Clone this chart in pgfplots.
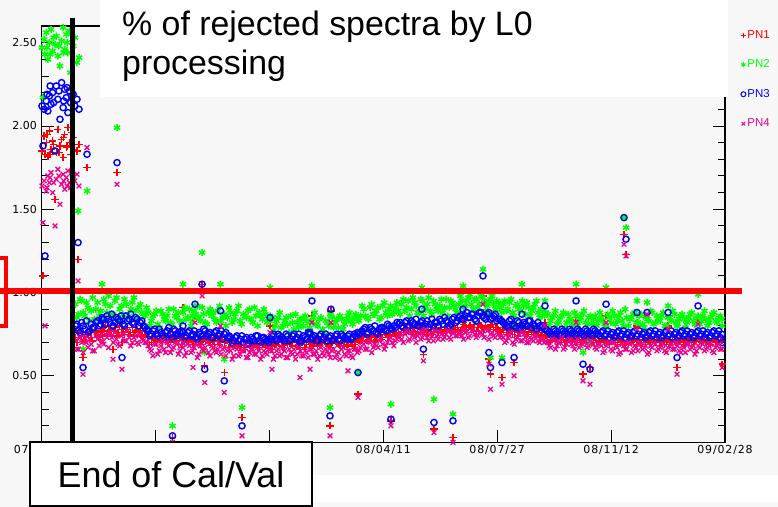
\documentclass[border=0pt]{standalone}
\usepackage{fontspec}
\setmainfont{Liberation Sans}
\newfontfamily\dejavu{DejaVu Sans}
\newfontfamily\dejavux[LetterSpace=8]{DejaVu Sans}
\usepackage{pgfplots}
\usepackage{pgfplotstable}
\pgfplotsset{compat=1.18}
\definecolor{bgc}{RGB}{247,247,247}

\pgfplotstableread{
d g b r m
0.5 2.47 2.12 1.85 1.64
1.4 2.17 1.88 1.10 1.42
2.5 2.52 2.10 1.94 1.67
3.3 2.43 1.22 1.83 0.80
4.5 2.56 2.15 1.90 1.61
5.2 2.47 2.19 1.95 1.63
6.0 2.40 2.09 1.82 1.70
7.5 2.50 2.18 1.97 1.66
8.2 2.43 2.24 1.83 1.69
9.0 2.58 2.13 1.86 1.72
10.5 2.45 2.20 1.91 1.60
11.5 2.53 2.14 1.89 1.66
12.8 2.49 1.85 1.56 1.40
14.0 2.54 2.24 1.84 1.68
15.5 2.42 2.16 1.98 1.74
16.5 2.48 2.21 1.84 1.70
17.5 2.36 2.04 1.88 1.53
19.0 2.51 2.26 1.92 1.65
20.5 2.59 2.11 1.81 1.71
21.0 2.44 2.15 1.93 1.67
22.0 2.46 2.22 1.95 1.62
23.5 2.55 2.17 1.87 1.69
24.2 2.50 2.23 1.88 1.64
25.0 2.44 2.08 1.99 1.73
26.5 2.57 2.21 1.90 1.66
27.5 2.32 2.14 1.83 1.63
28.4 2.56 2.18 1.96 1.72
30.0 2.48 2.19 1.93 1.70
31.5 2.53 2.12 1.86 1.67
33.6 2.38 2.16 1.85 1.71
35.5 2.41 2.10 1.89 1.64
32 0.93 0.80 0.73 0.71
35 0.87 0.77 0.76 0.66
38 0.95 0.82 0.74 0.70
41 0.86 0.78 0.71 0.73
44 0.91 0.76 0.75 0.67
47 0.89 0.81 0.73 0.69
50 0.84 0.79 0.77 0.65
53 0.94 0.83 0.74 0.72
56 0.89 0.81 0.76 0.74
59 0.96 0.84 0.79 0.69
62 0.88 0.86 0.75 0.73
65 0.92 0.82 0.78 0.76
68 0.85 0.80 0.77 0.70
71 0.97 0.85 0.74 0.72
74 0.90 0.83 0.80 0.68
77 0.87 0.81 0.76 0.75
80 0.93 0.86 0.78 0.71
83 0.86 0.84 0.75 0.73
86 0.94 0.82 0.79 0.70
89 0.89 0.85 0.77 0.74
92 0.91 0.80 0.76 0.69
95 0.88 0.83 0.74 0.72
98 0.86 0.79 0.75 0.70
101 0.88 0.77 0.73 0.68
104 0.83 0.75 0.70 0.65
107 0.87 0.78 0.74 0.69
110 0.81 0.74 0.72 0.63
113 0.89 0.76 0.71 0.68
116 0.84 0.73 0.73 0.66
119 0.86 0.77 0.70 0.70
122 0.82 0.75 0.74 0.64
125 0.90 0.78 0.72 0.67
128 0.85 0.74 0.71 0.69
131 0.83 0.76 0.73 0.65
134 0.88 0.76 0.72 0.67
137 0.84 0.74 0.70 0.64
140 0.90 0.77 0.73 0.68
143 0.83 0.75 0.69 0.65
146 0.87 0.73 0.72 0.69
149 0.85 0.76 0.70 0.63
152 0.91 0.74 0.71 0.66
155 0.82 0.77 0.73 0.67
158 0.88 0.75 0.70 0.64
161 0.86 0.73 0.72 0.68
164 0.84 0.76 0.69 0.65
167 0.89 0.74 0.71 0.66
170 0.83 0.77 0.72 0.63
173 0.87 0.75 0.70 0.67
176 0.85 0.73 0.71 0.65
179 0.88 0.73 0.70 0.65
182 0.84 0.71 0.68 0.62
185 0.89 0.74 0.70 0.66
188 0.83 0.72 0.67 0.63
191 0.87 0.70 0.69 0.65
194 0.85 0.73 0.71 0.61
197 0.90 0.71 0.68 0.64
200 0.82 0.72 0.70 0.66
203 0.86 0.74 0.69 0.63
206 0.88 0.71 0.67 0.65
209 0.84 0.73 0.70 0.62
212 0.87 0.72 0.68 0.64
215 0.83 0.70 0.69 0.66
218 0.84 0.74 0.71 0.65
221 0.80 0.72 0.69 0.62
224 0.85 0.75 0.70 0.66
227 0.79 0.73 0.68 0.63
230 0.83 0.71 0.71 0.65
233 0.81 0.74 0.69 0.61
236 0.86 0.72 0.70 0.64
239 0.78 0.75 0.72 0.66
242 0.82 0.73 0.68 0.63
245 0.84 0.71 0.70 0.65
248 0.80 0.74 0.71 0.62
251 0.83 0.72 0.69 0.64
254 0.79 0.75 0.70 0.66
257 0.85 0.73 0.68 0.63
260 0.81 0.71 0.71 0.65
263 0.84 0.74 0.69 0.62
266 0.78 0.72 0.70 0.64
269 0.83 0.75 0.72 0.66
272 0.80 0.73 0.68 0.63
275 0.85 0.71 0.70 0.65
278 0.82 0.74 0.71 0.61
281 0.79 0.72 0.69 0.64
284 0.84 0.75 0.70 0.66
287 0.81 0.73 0.68 0.63
290 0.86 0.74 0.71 0.65
293 0.83 0.72 0.70 0.62
296 0.85 0.75 0.69 0.66
299 0.84 0.76 0.72 0.64
302 0.86 0.76 0.72 0.67
305 0.90 0.78 0.74 0.69
308 0.85 0.75 0.71 0.66
311 0.91 0.79 0.73 0.70
314 0.87 0.77 0.75 0.67
317 0.89 0.76 0.72 0.68
320 0.84 0.78 0.74 0.71
323 0.92 0.79 0.73 0.69
326 0.88 0.77 0.75 0.68
329 0.90 0.80 0.74 0.72
332 0.87 0.78 0.76 0.70
335 0.91 0.79 0.75 0.71
338 0.89 0.81 0.76 0.73
341 0.93 0.80 0.76 0.72
344 0.89 0.82 0.78 0.75
347 0.95 0.79 0.77 0.71
350 0.90 0.83 0.75 0.76
353 0.94 0.81 0.79 0.73
356 0.88 0.80 0.76 0.74
359 0.96 0.82 0.78 0.72
362 0.91 0.79 0.77 0.77
365 0.93 0.83 0.75 0.73
368 0.89 0.81 0.78 0.75
371 0.95 0.80 0.76 0.71
374 0.90 0.82 0.79 0.74
377 0.92 0.84 0.77 0.76
380 0.88 0.81 0.76 0.72
383 0.96 0.83 0.78 0.75
386 0.91 0.80 0.77 0.73
389 0.94 0.84 0.79 0.76
392 0.90 0.82 0.78 0.74
395 0.93 0.85 0.77 0.75
398 0.95 0.84 0.78 0.74
401 0.92 0.86 0.80 0.76
404 0.97 0.85 0.79 0.73
407 0.93 0.87 0.78 0.77
410 0.96 0.84 0.81 0.75
413 0.91 0.86 0.79 0.74
416 0.98 0.88 0.80 0.76
419 0.94 0.85 0.78 0.73
422 0.92 0.87 0.79 0.77
425 0.96 0.84 0.80 0.75
428 0.93 0.86 0.78 0.74
431 0.95 0.83 0.79 0.76
434 0.91 0.84 0.77 0.73
437 0.93 0.82 0.78 0.73
440 0.89 0.80 0.76 0.71
443 0.94 0.83 0.77 0.74
446 0.88 0.81 0.75 0.70
449 0.92 0.79 0.78 0.72
452 0.90 0.82 0.76 0.75
455 0.95 0.80 0.77 0.71
458 0.87 0.81 0.79 0.73
461 0.91 0.83 0.76 0.70
464 0.89 0.79 0.77 0.72
467 0.93 0.80 0.75 0.74
470 0.88 0.82 0.76 0.71
473 0.90 0.79 0.74 0.72
476 0.86 0.78 0.75 0.70
479 0.87 0.77 0.73 0.70
482 0.83 0.75 0.71 0.67
485 0.86 0.78 0.74 0.71
488 0.81 0.76 0.72 0.68
491 0.85 0.74 0.70 0.70
494 0.88 0.77 0.73 0.66
497 0.82 0.75 0.71 0.69
500 0.84 0.78 0.74 0.72
503 0.80 0.76 0.72 0.68
506 0.86 0.74 0.70 0.70
509 0.83 0.77 0.73 0.67
512 0.87 0.75 0.71 0.69
515 0.82 0.78 0.72 0.71
518 0.85 0.76 0.74 0.68
521 0.81 0.74 0.70 0.70
524 0.86 0.77 0.73 0.67
527 0.83 0.75 0.71 0.69
530 0.85 0.76 0.72 0.68
533 0.81 0.74 0.70 0.65
536 0.87 0.77 0.73 0.69
539 0.82 0.75 0.71 0.66
542 0.86 0.73 0.72 0.70
545 0.83 0.76 0.69 0.67
548 0.88 0.74 0.71 0.64
551 0.80 0.77 0.73 0.68
554 0.85 0.75 0.70 0.66
557 0.84 0.73 0.72 0.69
560 0.87 0.76 0.71 0.65
563 0.82 0.74 0.69 0.67
566 0.86 0.77 0.72 0.70
569 0.81 0.75 0.73 0.66
572 0.85 0.73 0.70 0.68
575 0.83 0.76 0.71 0.64
578 0.88 0.74 0.72 0.67
581 0.82 0.77 0.70 0.69
584 0.84 0.75 0.73 0.66
587 0.86 0.73 0.71 0.68
590 0.80 0.76 0.69 0.65
593 0.85 0.74 0.72 0.67
596 0.83 0.77 0.70 0.69
599 0.87 0.75 0.71 0.66
602 0.81 0.73 0.73 0.68
605 0.86 0.76 0.72 0.64
608 0.84 0.74 0.70 0.67
611 0.82 0.77 0.71 0.69
614 0.87 0.75 0.72 0.66
617 0.83 0.73 0.70 0.68
620 0.85 0.76 0.73 0.65
623 0.81 0.74 0.71 0.67
626 0.86 0.77 0.72 0.69
629 0.84 0.75 0.70 0.66
632 0.82 0.73 0.71 0.68
635 0.87 0.76 0.72 0.65
638 0.83 0.74 0.70 0.67
641 0.85 0.77 0.73 0.69
644 0.84 0.75 0.71 0.66
33.5 0.85 0.81 0.70 0.66
36.5 0.96 0.76 0.77 0.73
39.5 0.88 0.80 0.72 0.64
42.5 0.94 0.83 0.75 0.70
45.5 0.83 0.77 0.78 0.72
48.5 0.97 0.79 0.71 0.65
51.5 0.90 0.82 0.76 0.74
54.5 0.86 0.80 0.73 0.68
57.5 0.84 0.85 0.74 0.70
60.5 0.93 0.81 0.80 0.75
63.5 0.98 0.84 0.77 0.67
66.5 0.87 0.87 0.74 0.73
69.5 0.95 0.82 0.79 0.76
72.5 0.83 0.84 0.76 0.69
75.5 0.92 0.86 0.78 0.74
78.5 0.96 0.80 0.75 0.71
81.5 0.85 0.83 0.79 0.77
84.5 0.90 0.87 0.76 0.68
87.5 0.97 0.81 0.74 0.73
90.5 0.84 0.84 0.78 0.70
93.5 0.93 0.82 0.77 0.75
96.5 0.87 0.80 0.73 0.71
99.5 0.91 0.78 0.75 0.70
102.5 0.80 0.74 0.69 0.66
105.5 0.86 0.77 0.73 0.62
108.5 0.89 0.75 0.71 0.69
111.5 0.79 0.78 0.74 0.65
114.5 0.87 0.74 0.70 0.71
117.5 0.83 0.76 0.73 0.64
120.5 0.90 0.79 0.71 0.68
123.5 0.81 0.73 0.72 0.66
126.5 0.86 0.77 0.74 0.70
129.5 0.88 0.75 0.69 0.63
132.5 0.82 0.77 0.69 0.68
135.5 0.91 0.73 0.73 0.62
138.5 0.85 0.76 0.71 0.69
141.5 0.80 0.74 0.72 0.64
144.5 0.89 0.77 0.70 0.67
147.5 0.92 0.72 0.74 0.61
150.5 0.83 0.75 0.69 0.68
153.5 0.87 0.78 0.72 0.65
156.5 0.81 0.74 0.73 0.70
159.5 0.90 0.76 0.70 0.62
162.5 0.88 0.73 0.71 0.67
165.5 0.82 0.77 0.74 0.64
168.5 0.92 0.75 0.69 0.69
171.5 0.85 0.72 0.72 0.66
174.5 0.80 0.76 0.71 0.62
177.5 0.91 0.74 0.67 0.66
180.5 0.82 0.70 0.71 0.60
183.5 0.87 0.73 0.68 0.67
186.5 0.92 0.71 0.70 0.62
189.5 0.81 0.74 0.69 0.65
192.5 0.86 0.72 0.66 0.68
195.5 0.89 0.69 0.71 0.61
198.5 0.84 0.73 0.68 0.66
201.5 0.91 0.71 0.70 0.63
204.5 0.80 0.74 0.67 0.67
207.5 0.86 0.70 0.71 0.60
210.5 0.90 0.73 0.69 0.65
213.5 0.82 0.71 0.68 0.63
216.5 0.86 0.72 0.68 0.66
219.5 0.77 0.75 0.71 0.60
222.5 0.83 0.71 0.69 0.65
225.5 0.88 0.74 0.72 0.62
228.5 0.80 0.72 0.67 0.67
231.5 0.85 0.75 0.70 0.61
234.5 0.76 0.71 0.71 0.66
237.5 0.82 0.74 0.68 0.63
240.5 0.87 0.72 0.72 0.60
243.5 0.79 0.75 0.69 0.67
246.5 0.84 0.71 0.70 0.62
249.5 0.86 0.73 0.67 0.65
252.5 0.77 0.76 0.71 0.61
255.5 0.83 0.72 0.69 0.66
258.5 0.88 0.74 0.72 0.63
261.5 0.80 0.71 0.68 0.60
264.5 0.85 0.75 0.70 0.67
267.5 0.76 0.73 0.71 0.62
270.5 0.82 0.71 0.69 0.65
273.5 0.87 0.74 0.67 0.61
276.5 0.79 0.72 0.72 0.66
279.5 0.84 0.75 0.70 0.63
282.5 0.86 0.71 0.68 0.60
285.5 0.78 0.74 0.71 0.67
288.5 0.83 0.72 0.69 0.62
291.5 0.88 0.75 0.72 0.65
294.5 0.81 0.73 0.68 0.61
297.5 0.87 0.74 0.70 0.66
300.5 0.83 0.75 0.71 0.65
303.5 0.92 0.77 0.73 0.70
306.5 0.86 0.79 0.75 0.66
309.5 0.84 0.76 0.72 0.71
312.5 0.93 0.78 0.74 0.64
315.5 0.87 0.80 0.71 0.69
318.5 0.91 0.75 0.75 0.67
321.5 0.85 0.79 0.72 0.72
324.5 0.94 0.78 0.76 0.66
327.5 0.86 0.81 0.73 0.70
330.5 0.92 0.79 0.75 0.73
333.5 0.88 0.80 0.77 0.68
336.5 0.94 0.82 0.74 0.72
339.5 0.87 0.82 0.75 0.75
342.5 0.96 0.79 0.78 0.70
345.5 0.91 0.83 0.76 0.77
348.5 0.86 0.80 0.79 0.72
351.5 0.97 0.82 0.77 0.75
354.5 0.92 0.84 0.75 0.70
357.5 0.88 0.80 0.80 0.76
360.5 0.95 0.83 0.76 0.73
363.5 0.90 0.81 0.78 0.78
366.5 0.97 0.79 0.77 0.71
369.5 0.87 0.84 0.75 0.74
372.5 0.93 0.82 0.79 0.77
375.5 0.89 0.80 0.76 0.72
378.5 0.96 0.83 0.78 0.75
381.5 0.91 0.85 0.77 0.73
384.5 0.86 0.82 0.80 0.77
387.5 0.95 0.81 0.76 0.72
390.5 0.92 0.85 0.78 0.76
393.5 0.88 0.83 0.79 0.74
396.5 0.98 0.86 0.77 0.76
399.5 0.91 0.84 0.81 0.72
402.5 0.95 0.88 0.78 0.77
405.5 0.99 0.85 0.80 0.74
408.5 0.90 0.87 0.79 0.78
411.5 0.96 0.83 0.77 0.73
414.5 0.93 0.88 0.81 0.76
417.5 0.97 0.86 0.79 0.75
420.5 0.89 0.84 0.80 0.78
423.5 0.95 0.88 0.78 0.72
426.5 0.98 0.85 0.81 0.76
429.5 0.90 0.87 0.79 0.73
432.5 0.94 0.84 0.78 0.75
435.5 0.88 0.83 0.76 0.74
438.5 0.95 0.81 0.79 0.70
441.5 0.90 0.79 0.75 0.73
444.5 0.96 0.84 0.78 0.76
447.5 0.86 0.80 0.77 0.69
450.5 0.93 0.83 0.74 0.73
453.5 0.89 0.78 0.78 0.71
456.5 0.92 0.82 0.76 0.75
459.5 0.94 0.80 0.75 0.70
462.5 0.86 0.83 0.78 0.73
465.5 0.91 0.81 0.76 0.71
468.5 0.95 0.78 0.77 0.74
471.5 0.85 0.80 0.73 0.70
474.5 0.89 0.80 0.76 0.72
477.5 0.88 0.78 0.74 0.71
480.5 0.80 0.76 0.70 0.68
483.5 0.85 0.74 0.73 0.72
486.5 0.89 0.77 0.71 0.66
489.5 0.82 0.75 0.74 0.70
492.5 0.86 0.78 0.72 0.73
495.5 0.79 0.76 0.70 0.67
498.5 0.87 0.74 0.73 0.71
501.5 0.83 0.77 0.71 0.69
504.5 0.88 0.75 0.74 0.66
507.5 0.80 0.78 0.72 0.72
510.5 0.85 0.76 0.70 0.68
513.5 0.89 0.74 0.73 0.70
516.5 0.81 0.77 0.71 0.67
519.5 0.86 0.75 0.74 0.71
522.5 0.84 0.78 0.72 0.69
525.5 0.80 0.76 0.70 0.66
528.5 0.88 0.74 0.70 0.69
531.5 0.83 0.77 0.72 0.64
534.5 0.79 0.75 0.71 0.68
537.5 0.85 0.73 0.69 0.70
540.5 0.89 0.76 0.73 0.65
543.5 0.81 0.74 0.70 0.68
546.5 0.86 0.77 0.72 0.63
549.5 0.83 0.75 0.71 0.69
552.5 0.90 0.73 0.69 0.66
555.5 0.80 0.76 0.73 0.70
558.5 0.85 0.74 0.70 0.64
561.5 0.88 0.77 0.72 0.68
564.5 0.82 0.75 0.71 0.65
567.5 0.87 0.73 0.69 0.69
570.5 0.79 0.76 0.72 0.67
573.5 0.84 0.74 0.73 0.63
576.5 0.89 0.77 0.70 0.68
579.5 0.81 0.75 0.71 0.70
582.5 0.86 0.73 0.72 0.65
585.5 0.83 0.76 0.70 0.67
588.5 0.88 0.74 0.73 0.69
591.5 0.80 0.77 0.71 0.64
594.5 0.85 0.75 0.69 0.68
597.5 0.89 0.73 0.72 0.66
600.5 0.82 0.76 0.70 0.70
603.5 0.84 0.74 0.71 0.65
606.5 0.87 0.77 0.73 0.68
609.5 0.79 0.75 0.69 0.64
612.5 0.85 0.73 0.72 0.69
615.5 0.88 0.76 0.70 0.67
618.5 0.81 0.74 0.71 0.63
621.5 0.86 0.77 0.73 0.68
624.5 0.83 0.75 0.70 0.70
627.5 0.89 0.73 0.72 0.65
630.5 0.80 0.76 0.71 0.67
633.5 0.85 0.74 0.69 0.69
636.5 0.88 0.77 0.72 0.64
639.5 0.82 0.75 0.70 0.68
642.5 0.86 0.73 0.73 0.66
34.6 1.49 1.30 1.20 1.07
39.3 0.66 0.55 0.61 0.51
43.1 1.61 1.83 1.75 1.87
57.3 1.05 0.84 0.77 0.71
67.7 0.87 0.80 0.66 0.60
71.5 1.99 1.78 1.72 1.65
76.2 0.84 0.61 0.70 0.54
124.0 0.20 0.14 0.13 0.10
133.9 1.05 0.80 0.91 0.70
143.4 0.86 0.74 0.70 0.55
145.3 0.92 0.93 0.86 0.82
152.0 1.24 1.05 1.05 0.98
154.5 0.64 0.54 0.56 0.46
169.4 1.05 0.89 0.84 0.80
173.0 0.60 0.47 0.52 0.40
189.8 0.31 0.20 0.25 0.14
216.3 1.03 0.85 0.80 0.76
218.2 0.85 0.72 0.66 0.54
244.7 0.80 0.70 0.66 0.49
254.2 0.82 0.76 0.70 0.54
256.0 1.04 0.95 0.86 0.82
273.1 0.31 0.26 0.20 0.14
274.0 0.86 0.90 0.89 0.82
290.1 0.84 0.72 0.69 0.53
299.6 0.52 0.52 0.39 0.37
330.8 0.33 0.24 0.23 0.20
360.0 1.03 0.90 0.80 0.76
361.5 0.86 0.66 0.63 0.59
371.5 0.36 0.22 0.18 0.16
389.5 0.27 0.23 0.13 0.10
399.0 1.04 0.90 0.82 0.78
417.9 1.14 1.10 0.98 0.93
423.5 0.88 0.64 0.60 0.57
425.0 0.61 0.55 0.51 0.42
435.9 0.61 0.58 0.49 0.45
447.3 0.80 0.61 0.58 0.50
454.8 1.05 0.87 0.80 0.76
476.6 0.95 0.92 0.82 0.80
506.0 1.05 0.95 0.85 0.82
512.6 0.64 0.57 0.51 0.47
519.2 0.70 0.54 0.55 0.45
534.4 1.03 0.93 0.86 0.82
551.4 1.45 1.45 1.35 1.29
553.3 1.39 1.32 1.23 1.22
563.7 0.95 0.88 0.80 0.78
573.2 0.94 0.88 0.85 0.87
593.1 0.92 0.88 0.80 0.78
601.6 0.80 0.61 0.55 0.51
621.5 0.99 0.92 0.84 0.81
644.3 0.80 0.70 0.57 0.55
}\pndata

\begin{document}
\begin{tikzpicture}[x=1bp,y=1bp]
\useasboundingbox (0bp,0bp) rectangle (778bp,507bp);
\fill[bgc] (0bp,0bp) rectangle (778bp,507bp);
\fill[white] (312bp,5bp) rectangle (778bp,32bp);
\begin{axis}[
  at={(41.5bp,64.5bp)}, anchor=south west,
  scale only axis, width=683.5bp, height=416.5bp,
  xmin=0, xmax=647, ymin=0.1, ymax=2.6,
  clip=false,
  axis line style={line width=1.2bp, black},
  tick align=inside,
  major tick length=12bp, minor tick length=7bp,
  every tick/.style={black, line width=0.9bp},
  xtick={0,107.83,215.67,323.5,431.33,539.17,647},
  xticklabels={07/05/23,07/09/08,07/12/25,08/04/11,08/07/27,08/11/12,09/02/28},
  ytick={0.5,1,1.5,2,2.5},
  yticklabels={0.50,1.00,1.50,2.00,2.50},
  minor ytick={0.2,0.3,0.4,0.6,0.7,0.8,0.9,1.1,1.2,1.3,1.4,1.6,1.7,1.8,1.9,2.1,2.2,2.3,2.4},
  yticklabel style={font=\dejavu\fontsize{11}{11}\selectfont, inner sep=0pt, xshift=-4.5bp},
  xticklabel style={font=\dejavux\fontsize{11}{11}\selectfont, inner sep=0pt, yshift=-2.5bp},
  legend style={at={(1.023,0.993)}, anchor=north west, draw=none, fill=none,
    font=\fontsize{11.5}{11.5}\selectfont, row sep=17bp, inner sep=0pt,
    nodes={inner sep=1.5bp}},
  legend cell align=left,
  legend image code/.code={\draw[#1, mark size=2.5bp, line width=1bp] plot coordinates {(3bp,0bp)};},
]
\addplot[only marks, mark=+, red, mark size=3.6bp, line width=1.4bp] table[x=d,y=r]{\pndata};
\addlegendentry{\textcolor{red}{PN1}}
\addplot[only marks, mark=asterisk, green, mark size=3.6bp, line width=1.5bp] table[x=d,y=g]{\pndata};
\addlegendentry{\textcolor{green}{PN2}}
\addplot[only marks, mark=o, blue, mark size=3.1bp, line width=1.4bp] table[x=d,y=b]{\pndata};
\addlegendentry{\textcolor{blue}{PN3}}
\addplot[only marks, mark=x, magenta, mark size=3.3bp, line width=1.3bp] table[x=d,y=m]{\pndata};
\addlegendentry{\textcolor{magenta}{PN4}}
\end{axis}
\draw[red, line width=6bp] (0bp,216bp) -- (742bp,216bp);
\draw[red, line width=3.5bp] (-20bp,249bp) rectangle (6bp,181bp);
\draw[black, line width=5bp] (72bp,489bp) -- (72bp,65bp);
\fill[white] (100bp,410bp) rectangle (728bp,507bp);
\node[anchor=base west, inner sep=0pt, font=\fontsize{34}{40}\selectfont] at (122bp,471bp) {\% of rejected spectra by L0};
\node[anchor=base west, inner sep=0pt, font=\fontsize{34}{40}\selectfont] at (122bp,432bp) {processing};
\draw[black, line width=2bp, fill=white] (30bp,1bp) rectangle (312bp,65bp);
\node[anchor=base, inner sep=0pt, font=\fontsize{36}{40}\selectfont] at (171bp,20bp) {End of Cal/Val};
\end{tikzpicture}
\end{document}
